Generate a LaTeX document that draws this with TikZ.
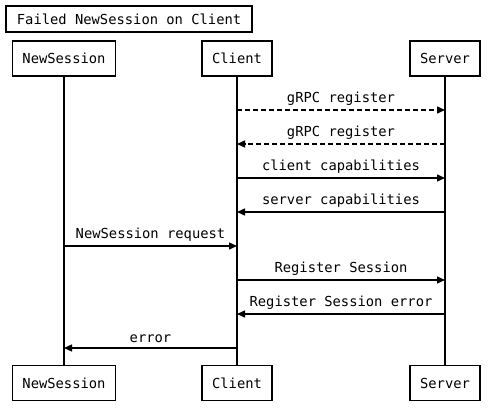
\documentclass[tikz,border=0pt]{standalone}
\usepackage{fontspec}
\setmonofont{DejaVu Sans Mono}
\usetikzlibrary{arrows.meta, positioning}

\begin{document}
\begin{tikzpicture}[x=1pt, y=-1pt,
      actor/.style={draw, line width=1.8pt, minimum height=35pt, inner xsep=10pt,
                    font=\fontsize{13.8}{16}\selectfont\ttfamily},
      title/.style={draw, line width=1.8pt, minimum height=26pt, inner xsep=11pt,
                    font=\fontsize{13.8}{16}\selectfont\ttfamily},
      life/.style={line width=1.4pt},
      msg/.style={-{Triangle[length=8pt, width=7pt]}, line width=1.4pt},
      lbl/.style={above=1pt, font=\fontsize{13.8}{16}\selectfont\ttfamily}
    ]
      \useasboundingbox (0,0) rectangle (495,414);

      \node[title, anchor=west] (ttl) at (5,19) {Failed NewSession on Client};

      % participants, top and bottom
      \node[actor] (nsTop) at (64,58.5) {NewSession};
      \node[actor] (clTop) at (237,58.5) {Client};
      \node[actor] (svTop) at (445,58.5) {Server};
      \node[actor] (nsBot) at (64,383) {NewSession};
      \node[actor] (clBot) at (237,383) {Client};
      \node[actor] (svBot) at (445,383) {Server};

      \draw[life] (nsTop) -- (nsBot);
      \draw[life] (clTop) -- (clBot);
      \draw[life] (svTop) -- (svBot);

      % message rows on the lifelines
      \foreach \i/\y in {1/110, 2/144, 3/178, 4/212, 5/246, 6/280, 7/314, 8/348} {
        \coordinate (ns\i) at (64,\y);
        \coordinate (cl\i) at (237,\y);
        \coordinate (sv\i) at (445,\y);
      }

      \draw[msg, dash pattern=on 5pt off 3pt] (cl1) -- node[lbl] {gRPC register} (sv1);
      \draw[msg, dash pattern=on 5pt off 3pt] (sv2) -- node[lbl] {gRPC register} (cl2);
      \draw[msg] (cl3) -- node[lbl] {client capabilities} (sv3);
      \draw[msg] (sv4) -- node[lbl] {server capabilities} (cl4);
      \draw[msg] (ns5) -- node[lbl] {NewSession request} (cl5);
      \draw[msg] (cl6) -- node[lbl] {Register Session} (sv6);
      \draw[msg] (sv7) -- node[lbl] {Register Session error} (cl7);
      \draw[msg] (cl8) -- node[lbl] {error} (ns8);
    \end{tikzpicture}
\end{document}
